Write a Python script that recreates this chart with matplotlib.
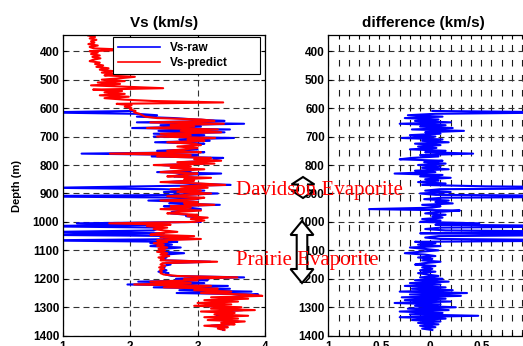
import matplotlib
matplotlib.use("Agg")
import matplotlib.pyplot as plt
import matplotlib.patches as mpatches
from matplotlib.ticker import MultipleLocator
import numpy as np

plt.rcParams['font.family'] = ['Liberation Sans', 'DejaVu Sans']
plt.rcParams['font.weight'] = 'bold'
plt.rcParams['lines.scale_dashes'] = False

# depth sampling of the log (m)
depth = np.arange(345, 1381, 5)

# Vs-predict (km/s), one value per 5 m from 345 to 1380
vs_predict = [
    1.38, 1.48, 1.40, 1.50, 1.42, 1.47, 1.38, 1.52, 1.40, 1.46,
    1.97, 1.40, 1.52, 1.42, 1.55, 1.44, 1.56, 1.45, 1.40, 1.55,
    1.48, 1.60, 1.50, 1.68, 1.55, 1.75, 1.58, 1.80, 1.62, 2.07,
    1.85, 1.58, 1.92, 1.52, 1.85, 1.42, 1.95, 2.49, 1.45, 1.88,
    1.62, 1.92, 1.55, 1.98, 1.62, 1.90, 2.34, 3.38, 1.80, 2.02,
    1.92, 2.02, 2.00, 2.08, 2.06, 2.14, 2.18, 2.22, 2.40, 3.05,
    3.25, 2.30, 3.39, 2.60, 2.95, 2.25, 3.30, 2.75, 3.35, 2.45,
    2.90, 2.40, 3.26, 2.85, 3.10, 2.55, 2.95, 3.05, 2.70, 3.00,
    2.80, 2.55, 3.05, 1.70, 2.90, 2.40, 3.20, 2.95, 3.35, 2.70,
    3.25, 2.35, 2.90, 2.60, 3.10, 2.75, 2.45, 3.00, 2.85, 2.55,
    3.20, 2.80, 2.95, 2.45, 3.05, 3.41, 2.75, 3.15, 2.60, 3.05,
    2.70, 3.20, 2.85, 2.55, 3.10, 2.95, 2.45, 3.00, 2.80, 3.25,
    2.60, 2.90, 2.45, 3.05, 2.70, 2.55, 3.00, 2.85, 3.15, 2.90,
    3.10, 2.95, 1.69, 2.60, 2.25, 2.55, 2.35, 2.50, 2.70, 2.40,
    2.30, 2.95, 2.45, 3.05, 2.40, 2.55, 2.35, 2.50, 2.40, 2.55,
    2.42, 2.52, 2.40, 2.55, 2.45, 2.58, 2.42, 2.50, 2.45, 3.29,
    2.48, 2.45, 2.52, 2.43, 2.50, 2.44, 2.47, 2.45, 2.50, 2.70,
    3.59, 2.80, 3.00, 2.30, 2.90, 2.06, 3.20, 2.50, 3.30, 2.95,
    3.50, 3.05, 3.70, 3.96, 3.20, 3.75, 3.10, 3.60, 3.00, 3.50,
    2.95, 3.65, 3.20, 3.85, 3.05, 3.55, 3.25, 3.75, 3.10, 3.60,
    3.15, 3.70, 3.35, 3.55, 3.10, 3.45, 3.30, 3.40,
]

# difference = predict - raw (km/s), one value per 5 m from 610 to 1380
diff_start = 610
difference = [
    0.02, 1.40, 0.05, -0.22, 0.12, -0.25, 0.08, -0.15, 0.20, -0.30,
    0.15, -0.10, 0.22, -0.18, 0.33, -0.05, 0.10, -0.20, 0.05, -0.28,
    0.12, -0.08, 0.18, -0.15, 0.10, -0.12, 0.06, -0.20, 0.15, -0.05,
    0.42, -0.10, 0.08, -0.18, -0.30, 0.12, -0.06, 0.15, -0.12, 0.10,
    -0.08, 0.18, -0.15, 0.05, -0.35, 0.12, -0.10, 0.20, -0.05, 0.08,
    -0.12, 0.15, -0.08, 0.54, 2.30, 0.10, -0.05, 0.20, -0.10, 0.05,
    2.30, 0.12, -0.06, 0.18, 0.05, 0.22, -0.08, 0.10, 0.02, -0.60,
    0.29, 0.08, -0.05, 0.15, 0.02, 0.12, -0.08, 0.10, -0.10, 0.48,
    0.05, 1.80, 0.10, -0.05, 0.15, 1.80, -0.10, 1.90, 0.08, -0.05,
    0.10, 1.80, -0.15, 0.05, -0.12, 0.10, -0.20, -0.05, 0.08, -0.10,
    -0.25, -0.05, 0.05, -0.12, 0.02, -0.08, 0.10, -0.06, -0.15, 0.05,
    -0.08, 0.02, -0.10, 0.05, -0.12, -0.03, 0.08, -0.10, 0.12, -0.15,
    0.18, -0.20, 0.10, -0.25, 0.15, -0.18, 0.22, -0.30, 0.36, -0.20,
    0.30, -0.28, 0.15, -0.25, 0.20, -0.35, 0.10, -0.15, 0.25, -0.22,
    0.18, -0.30, 0.12, -0.20, 0.47, -0.30, 0.15, -0.18, 0.10, -0.12,
    0.08, -0.10, 0.05, -0.08, 0.02,
]

vs_ticks = [1, 2, 3, 4]
diff_ticks = [-1, -0.5, 0, 0.5, 1]
depth_ticks = [400, 500, 600, 700, 800, 900, 1000, 1100, 1200, 1300, 1400]

vs_predict = np.array(vs_predict)
diff_full = np.full(len(depth), np.nan)
i0 = int((diff_start - depth[0]) / 5)
diff_full[i0:i0 + len(difference)] = difference
vs_raw = vs_predict - diff_full

W, H = 523, 346
fig = plt.figure(figsize=(W / 100, H / 100), dpi=100)

ax1 = fig.add_axes([62.7 / W, 1 - 335.7 / H, 202.3 / W, 300.7 / H])
ax2 = fig.add_axes([328.3 / W, 1 - 335.7 / H, 204 / W, 300.7 / H])

ax1.plot(vs_raw, depth, color='#0000ff', lw=1.5, label='Vs-raw')
ax1.plot(vs_predict, depth, color='#ff0000', lw=1.5, label='Vs-predict')
ax2.plot(diff_full, depth, color='#0000ff', lw=1.5)

ax1.set_xlim(1, 4)
ax1.set_xticks(vs_ticks)
ax2.set_xlim(-1, 1)
ax2.set_xticks(diff_ticks)
ax2.set_xticklabels(['-1', '-0.5', '0', '0.5', '1'])
ax2.xaxis.set_minor_locator(MultipleLocator(0.1))

for ax in (ax1, ax2):
    ax.set_ylim(1400, 343)
    ax.set_yticks(depth_ticks)
    ax.tick_params(direction='in', top=True, right=True, length=3, width=0.8,
                   labelsize=8.5, pad=2.5)
    ax.tick_params(axis='x', pad=4)
    ax.tick_params(which='minor', direction='in', top=True, bottom=True,
                   length=3, width=0.8)
    ax.yaxis.grid(True, color='0.2', lw=0.8, linestyle=(0, (4.3, 2.9)))
    for s in ax.spines.values():
        s.set_linewidth(0.9)

ax1.xaxis.grid(True, color='0.2', lw=0.8, linestyle=(0, (4.3, 2.9)))
ax2.xaxis.grid(True, which='both', color='0.1', lw=0.8,
               linestyle=(0, (4.7, 6.1)))
ax1.set_axisbelow(True)
ax2.set_axisbelow(True)

ax1.set_title('Vs (km/s)', fontsize=11, fontweight='bold', pad=6)
ax2.set_title('difference (km/s)', fontsize=11, fontweight='bold', pad=6,
              x=0.466)
fig.text(17.5 / W, 1 - 186 / H, 'Depth (m)', rotation=90, ha='center',
         va='center', fontsize=8, fontweight='bold')

leg = ax1.legend(loc='upper left', bbox_to_anchor=(0.249, 0.884, 0.726, 0.109),
                 mode='expand', borderaxespad=0, fancybox=False, framealpha=1,
                 edgecolor='black', prop={'weight': 'bold', 'size': 8.5},
                 handlelength=3.6, borderpad=0.4, labelspacing=0.25)
leg.get_frame().set_linewidth(0.8)
for ln in leg.get_lines():
    ln.set_linewidth(1.2)


def double_arrow(xc, ytop, ybot, head_w, head_l, shaft_w):
    pts = [(xc, ytop), (xc + head_w / 2, ytop + head_l),
           (xc + shaft_w / 2, ytop + head_l), (xc + shaft_w / 2, ybot - head_l),
           (xc + head_w / 2, ybot - head_l), (xc, ybot),
           (xc - head_w / 2, ybot - head_l), (xc - shaft_w / 2, ybot - head_l),
           (xc - shaft_w / 2, ytop + head_l), (xc - head_w / 2, ytop + head_l)]
    pts = [(x / W, 1 - y / H) for x, y in pts]
    return mpatches.Polygon(pts, closed=True, facecolor='white',
                            edgecolor='black', lw=1.5, transform=fig.transFigure,
                            zorder=2)


fig.patches.append(double_arrow(303, 177, 198, 23, 7.5, 10))
fig.patches.append(double_arrow(302, 221, 283, 23, 14, 10.6))

fig.text(236 / W, 1 - 195 / H, 'Davidson Evaporite', color='red',
         fontsize=15, family='Liberation Serif', fontweight='normal',
         va='baseline', zorder=3)
fig.text(236 / W, 1 - 265 / H, 'Prairie Evaporite', color='red',
         fontsize=15, family='Liberation Serif', fontweight='normal',
         va='baseline', zorder=3)

fig.savefig('out.png', dpi=100)
